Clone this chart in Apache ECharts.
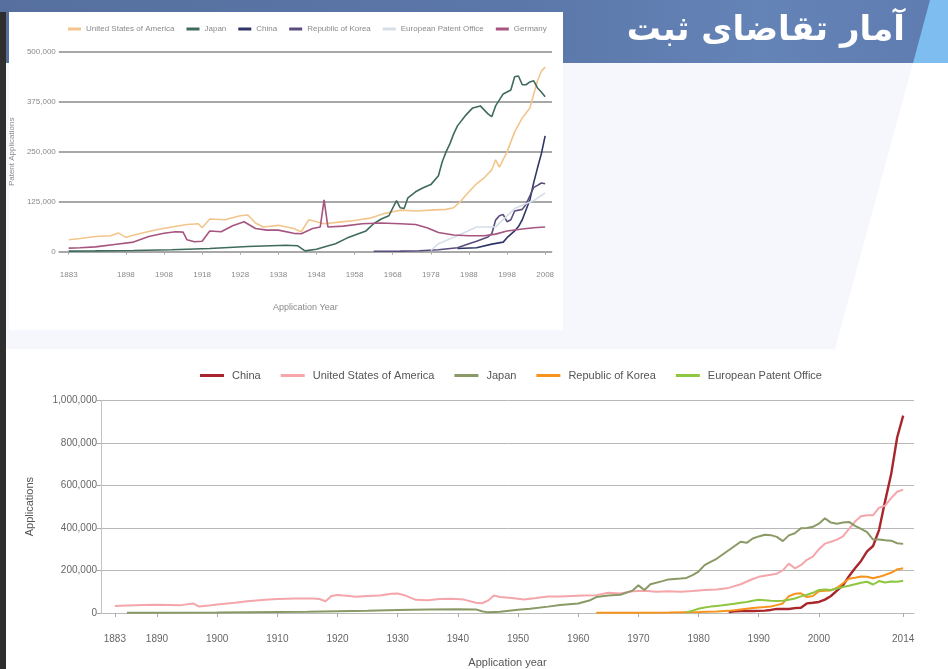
<!DOCTYPE html>
<html>
<head>
<meta charset="utf-8">
<script src="https://cdn.jsdelivr.net/npm/echarts@6/dist/echarts.min.js"></script>
<style>
html,body{margin:0;padding:0;width:948px;height:669px;overflow:hidden;background:#fff;}
.bg{position:absolute;}
#banner{left:0;top:0;width:948px;height:63px;background:linear-gradient(90deg,#566f9e 0%,#5b77a9 55%,#6483b6 80%,#5f7cb0 100%);}
#accent{left:0;top:0;width:948px;height:63px;background:#7dbdf0;clip-path:polygon(930px 0,948px 0,948px 63px,913px 63px);}
#panel{left:0;top:63px;width:948px;height:286px;background:#f5f7fc;clip-path:polygon(6px 0,913px 0,835px 286px,6px 286px);}
#edge{left:0;top:12px;width:6px;height:657px;background:#2e2e2e;}
#topbox{left:9px;top:12px;width:554px;height:318px;background:#fff;}
#botbox{left:6px;top:349px;width:942px;height:320px;background:#fff;}
#chart{position:absolute;left:0;top:0;width:948px;height:669px;}
</style>
</head>
<body>
<div class="bg" id="banner"></div>
<div class="bg" id="accent"></div>
<div class="bg" id="panel"></div>
<div class="bg" id="edge"></div>
<div class="bg" id="topbox"></div>
<div class="bg" id="botbox"></div>
<div id="chart"></div>
<script>
// ---------- Title ----------
const slideTitle = 'آمار تقاضای ثبت';

// ---------- Bottom chart (1883-2014) ----------
const bottomNames = ['China', 'United States of America', 'Japan', 'Republic of Korea', 'European Patent Office'];
const bottomColors = ['#a8262c', '#f4a6aa', '#8a9a66', '#f7941d', '#8fc640'];
const bottomTicks = [1883, 1890, 1900, 1910, 1920, 1930, 1940, 1950, 1960, 1970, 1980, 1990, 2000, 2014];

const chinaB = [[1985,4000],[1986,8500],[1987,9500],[1988,10000],[1989,9700],[1990,10100],[1991,11400],[1992,14400],[1993,19600],[1994,19000],[1995,18700],[1996,22700],[1997,24800],[1998,45000],[1999,48000],[2000,52000],[2001,63000],[2002,80000],[2003,105000],[2004,130000],[2005,173000],[2006,210000],[2007,245000],[2008,290000],[2009,315000],[2010,391000],[2011,526000],[2012,652000],[2013,825000],[2014,928000]];

const usaB = [[1883,33000],[1885,35000],[1888,38000],[1890,39000],[1892,38000],[1894,37000],[1896,45000],[1897,30000],[1899,36000],[1900,40000],[1903,48000],[1905,55000],[1908,62000],[1910,66000],[1913,68000],[1916,68000],[1917,66000],[1918,55000],[1919,80000],[1920,85000],[1922,80000],[1923,76000],[1925,80000],[1927,82000],[1929,91000],[1930,92000],[1931,85000],[1933,62000],[1935,60000],[1937,66000],[1939,67000],[1941,63000],[1943,48000],[1944,46000],[1945,58000],[1946,82000],[1947,75000],[1949,70000],[1951,64000],[1953,70000],[1955,78000],[1957,77000],[1959,80000],[1961,82000],[1963,84000],[1965,95000],[1967,92000],[1969,102000],[1971,105000],[1973,100000],[1975,102000],[1977,100000],[1979,103000],[1981,108000],[1983,110000],[1985,118000],[1987,135000],[1989,160000],[1990,170000],[1991,175000],[1993,185000],[1994,200000],[1995,232000],[1996,210000],[1997,225000],[1998,250000],[1999,265000],[2000,300000],[2001,326000],[2002,335000],[2003,345000],[2004,360000],[2005,395000],[2006,430000],[2007,455000],[2008,460000],[2009,460000],[2010,495000],[2011,505000],[2012,540000],[2013,570000],[2014,580000]];

const japanB = [[1885,1000],[1890,1500],[1900,2500],[1910,5000],[1915,6000],[1920,8000],[1925,10000],[1930,14000],[1935,16000],[1940,18000],[1943,17000],[1944,8000],[1945,3000],[1947,6000],[1950,15000],[1952,20000],[1955,30000],[1957,38000],[1960,45000],[1962,60000],[1963,75000],[1965,82000],[1967,86000],[1969,105000],[1970,130000],[1971,108000],[1972,135000],[1974,150000],[1975,158000],[1977,162000],[1978,165000],[1979,178000],[1980,195000],[1981,225000],[1982,240000],[1983,255000],[1984,275000],[1985,295000],[1986,315000],[1987,335000],[1988,330000],[1989,350000],[1990,360000],[1991,368000],[1992,366000],[1993,358000],[1994,338000],[1995,365000],[1996,375000],[1997,398000],[1998,400000],[1999,405000],[2000,420000],[2001,445000],[2002,425000],[2003,420000],[2004,425000],[2005,428000],[2006,410000],[2007,395000],[2008,380000],[2009,345000],[2010,345000],[2011,342000],[2012,340000],[2013,328000],[2014,325000]];

const koreaB = [[1963,1500],[1965,1000],[1970,1500],[1975,2500],[1980,5000],[1983,7000],[1985,10000],[1987,17000],[1988,20000],[1989,23000],[1990,26000],[1991,28000],[1992,31000],[1993,37000],[1994,45000],[1995,79000],[1996,90000],[1997,93000],[1998,75000],[1999,80000],[2000,102000],[2001,105000],[2002,106000],[2003,119000],[2004,140000],[2005,161000],[2006,166000],[2007,172000],[2008,170000],[2009,163000],[2010,170000],[2011,179000],[2012,189000],[2013,205000],[2014,210000]];

const epoB = [[1978,3000],[1979,11000],[1980,20000],[1981,26000],[1982,30000],[1983,33000],[1984,36000],[1985,40000],[1986,44000],[1987,48000],[1988,52000],[1989,58000],[1990,62000],[1991,60000],[1992,58000],[1993,57000],[1994,58000],[1995,62000],[1996,68000],[1997,78000],[1998,86000],[1999,95000],[2000,108000],[2001,110000],[2002,108000],[2003,115000],[2004,122000],[2005,128000],[2006,135000],[2007,142000],[2008,147000],[2009,134000],[2010,150000],[2011,143000],[2012,148000],[2013,147000],[2014,152000]];

// ---------- Top (inset) chart (1883-2008) ----------
const topNames = ['United States of America', 'Japan', 'China', 'Republic of Korea', 'European Patent Office', 'Germany'];
const topColors = ['#f2c58c', '#3f6b5c', '#2f3566', '#5a4c7c', '#d6dee9', '#a5557f'];
const topTicks = [1883, 1898, 1908, 1918, 1928, 1938, 1948, 1958, 1968, 1978, 1988, 1998, 2008];

const usaT = [[1883,30000],[1886,33000],[1890,38000],[1894,40000],[1896,47000],[1898,36000],[1902,46000],[1906,55000],[1910,62000],[1914,68000],[1917,70000],[1918,60000],[1920,82000],[1924,80000],[1928,90000],[1930,92000],[1932,72000],[1934,62000],[1938,66000],[1942,58000],[1944,50000],[1946,80000],[1950,70000],[1954,74000],[1958,78000],[1962,84000],[1966,96000],[1970,104000],[1974,102000],[1978,104000],[1982,106000],[1984,110000],[1986,128000],[1988,150000],[1990,170000],[1992,185000],[1994,205000],[1995,230000],[1996,212000],[1998,250000],[2000,300000],[2002,335000],[2004,360000],[2006,428000],[2007,452000],[2008,462000]];

const japanT = [[1883,1500],[1890,2000],[1900,3000],[1910,5000],[1920,8000],[1930,13000],[1940,16000],[1943,15000],[1945,2000],[1948,6000],[1950,12000],[1953,20000],[1956,34000],[1959,45000],[1961,52000],[1963,70000],[1965,82000],[1967,90000],[1969,128000],[1970,110000],[1971,108000],[1972,135000],[1974,150000],[1976,160000],[1978,168000],[1980,190000],[1981,225000],[1982,250000],[1983,270000],[1984,295000],[1985,315000],[1987,340000],[1989,360000],[1991,365000],[1993,345000],[1994,338000],[1995,365000],[1997,395000],[1999,405000],[2000,438000],[2001,440000],[2002,418000],[2003,418000],[2004,425000],[2005,428000],[2006,410000],[2007,400000],[2008,388000]];

const chinaT = [[1985,8000],[1990,10000],[1994,19000],[1997,24000],[1998,35000],[2000,52000],[2001,63000],[2002,80000],[2003,105000],[2004,130000],[2005,173000],[2006,210000],[2007,245000],[2008,290000]];

const koreaT = [[1963,1000],[1970,1500],[1975,2500],[1980,5000],[1985,10000],[1988,20000],[1990,26000],[1993,37000],[1994,45000],[1995,79000],[1996,90000],[1997,93000],[1998,75000],[1999,80000],[2000,102000],[2002,106000],[2003,119000],[2004,140000],[2005,161000],[2006,166000],[2007,172000],[2008,170000]];

const epoT = [[1978,3000],[1980,20000],[1985,40000],[1990,62000],[1995,62000],[2000,108000],[2005,128000],[2008,147000]];

const germanyT = [[1883,9000],[1886,10000],[1890,12000],[1895,18000],[1900,24000],[1904,38000],[1908,46000],[1911,50000],[1913,49000],[1914,30000],[1916,25000],[1918,26000],[1920,52000],[1923,50000],[1926,65000],[1929,75000],[1932,58000],[1935,54000],[1938,54000],[1942,46000],[1944,45000],[1947,58000],[1949,62000],[1950,130000],[1951,62000],[1955,64000],[1960,70000],[1965,72000],[1970,70000],[1974,68000],[1977,60000],[1980,48000],[1984,42000],[1988,40000],[1992,40000],[1995,44000],[1998,52000],[2002,57000],[2005,60000],[2008,62000]];

const bottomData = [chinaB, usaB, japanB, koreaB, epoB];
const topData = [usaT, japanT, chinaT, koreaT, epoT, germanyT];

const FONT = "'Liberation Sans', Arial, sans-serif";
const TOP_PREFIX = 'top:';

const chart = echarts.init(document.getElementById('chart'), null, {renderer: 'canvas'});

const series = [];
topNames.forEach((n, i) => {
  series.push({
    name: TOP_PREFIX + n, type: 'line', xAxisIndex: 0, yAxisIndex: 0,
    data: topData[i], showSymbol: false, symbol: 'none',
    lineStyle: {width: 1.6, color: topColors[i]}, itemStyle: {color: topColors[i]},
    z: 3
  });
});
bottomNames.forEach((n, i) => {
  series.push({
    name: n, type: 'line', xAxisIndex: 1, yAxisIndex: 1,
    data: bottomData[i], showSymbol: false, symbol: 'none',
    lineStyle: {width: i === 0 ? 2.4 : 2, color: bottomColors[i]}, itemStyle: {color: bottomColors[i]},
    z: 3
  });
});

const yearFmt = v => String(Math.round(v));
const numFmt = v => v.toLocaleString('en-US');

const option = {
  animation: false,
  backgroundColor: 'transparent',
  title: {
    text: slideTitle, right: 38, top: 9,
    textStyle: {color: '#ffffff', fontSize: 34, fontWeight: 'bold', fontFamily: "'DejaVu Sans', sans-serif"}
  },
  legend: [
    {
      data: topNames.map(n => TOP_PREFIX + n),
      formatter: name => name.slice(TOP_PREFIX.length),
      left: 63, top: 20, icon: 'rect', itemWidth: 13, itemHeight: 3, itemGap: 12,
      textStyle: {fontSize: 8, color: '#8a8a8a', fontFamily: FONT}
    },
    {
      data: bottomNames,
      left: 195, top: 365, icon: 'rect', itemWidth: 24, itemHeight: 3, itemGap: 20,
      textStyle: {fontSize: 11, color: '#555', fontFamily: FONT, padding: [0, 0, 0, 3]}
    }
  ],
  grid: [
    {left: 55, right: 396, top: 52, bottom: 417.3},
    {left: 101, right: 34, top: 400.3, bottom: 55.7}
  ],
  xAxis: [
    {
      gridIndex: 0, type: 'value', min: 1880.4, max: 2009.8, offset: 11.5,
      name: 'Application Year', nameLocation: 'middle', nameGap: 40,
      nameTextStyle: {fontSize: 9, color: '#8a8a8a', fontFamily: FONT},
      axisLine: {show: true, lineStyle: {color: '#a9a9a9', width: 1}},
      axisTick: {show: true, length: 3, customValues: topTicks, lineStyle: {color: '#a9a9a9'}},
      axisLabel: {customValues: topTicks, formatter: yearFmt, fontSize: 8, color: '#8a8a8a', margin: 8, fontFamily: FONT},
      splitLine: {show: false}
    },
    {
      gridIndex: 1, type: 'value', min: 1880.7, max: 2015.8, offset: 13,
      name: 'Application year', nameLocation: 'middle', nameGap: 31,
      nameTextStyle: {fontSize: 11, color: '#555', fontFamily: FONT},
      axisLine: {show: true, lineStyle: {color: '#bbbbbb', width: 1}},
      axisTick: {show: true, length: 4, customValues: bottomTicks, lineStyle: {color: '#aaaaaa'}},
      axisLabel: {customValues: bottomTicks, formatter: yearFmt, fontSize: 10, color: '#666', margin: 8, fontFamily: FONT},
      splitLine: {show: false}
    }
  ],
  yAxis: [
    {
      gridIndex: 0, type: 'value', min: 0, max: 500000, interval: 125000,
      name: 'Patent Applications', nameLocation: 'middle', nameGap: 35,
      nameTextStyle: {fontSize: 8, color: '#8a8a8a', fontFamily: FONT},
      axisLine: {show: false}, axisTick: {show: false},
      axisLabel: {fontSize: 8, color: '#8a8a8a', margin: 3, fontFamily: FONT, formatter: numFmt},
      splitLine: {show: true, lineStyle: {color: '#a8a8a8', width: 2}}
    },
    {
      gridIndex: 1, type: 'value', min: 0, max: 1000000, interval: 200000,
      name: 'Applications', nameLocation: 'middle', nameGap: 66,
      nameTextStyle: {fontSize: 11, color: '#555', fontFamily: FONT},
      axisLine: {show: true, lineStyle: {color: '#c4c4c4', width: 1}},
      axisTick: {show: true, length: 4, lineStyle: {color: '#aaaaaa'}},
      axisLabel: {fontSize: 10, color: '#666', margin: 4, fontFamily: FONT, formatter: numFmt},
      splitLine: {show: true, lineStyle: {color: '#b8b8b8', width: 1}}
    }
  ],
  series: series
};
chart.setOption(option);
</script>
</body>
</html>
